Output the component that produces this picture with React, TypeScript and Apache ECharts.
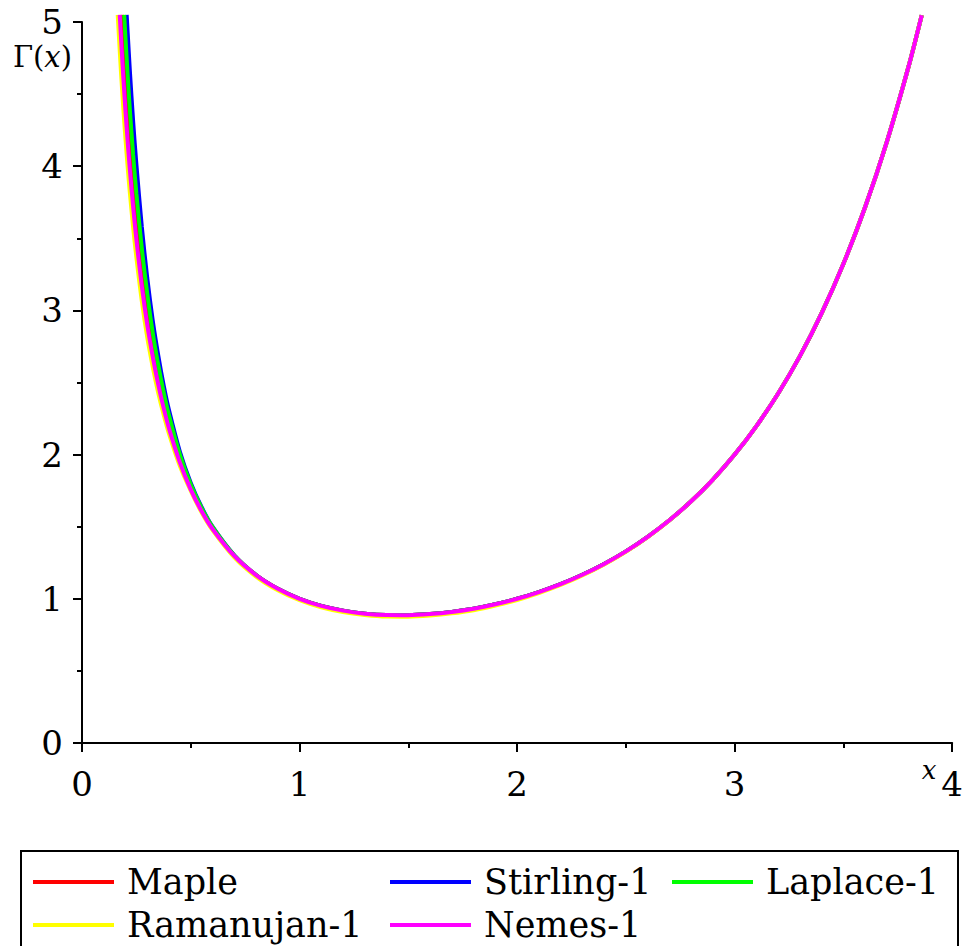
import React, { useEffect, useRef } from "react";
import * as echarts from "echarts";

// x positions shared by all curves
const X = [
  0.17, 0.18, 0.19, 0.2, 0.21, 0.22, 0.235, 0.25, 0.275, 0.3, 0.325, 0.35, 0.375, 0.4, 0.45, 0.5, 0.55, 0.6, 0.7, 0.8, 0.9,
  1.0, 1.1, 1.2, 1.3, 1.4, 1.5, 1.6, 1.7, 1.8, 1.9, 2.0, 2.1, 2.2, 2.3, 2.4, 2.5, 2.6, 2.7, 2.8, 2.9, 3.0, 3.1, 3.2, 3.3, 3.4,
  3.5, 3.6, 3.7, 3.8, 3.86,
];

// first point of each curve (where it leaves the top of the plot)
const START_MAPLE = [0.1825, 5.05];
const START_STIRLING = [0.2053, 5.05];
const START_LAPLACE = [0.1939, 5.05];
const START_RAMANUJAN = [0.1642, 5.05];
const START_NEMES = [0.1734, 5.05];

const Y_MAPLE = [
  null, null, 4.847, 4.591, 4.36, 4.15, 3.871, 3.626, 3.279, 2.992, 2.751, 2.546, 2.373, 2.218, 1.968, 1.772, 1.616, 1.489,
  1.298, 1.164, 1.069, 1.0, 0.951, 0.918, 0.897, 0.887, 0.886, 0.894, 0.909, 0.931, 0.962, 1.0, 1.047, 1.102, 1.167, 1.242,
  1.329, 1.43, 1.545, 1.676, 1.827, 2.0, 2.198, 2.424, 2.683, 2.981, 3.323, 3.717, 4.171, 4.694, 5.047,
];
const Y_STIRLING = [
  null, null, null, null, 4.924, 4.661, 4.313, 4.012, 3.579, 3.224, 2.932, 2.692, 2.483, 2.307, 2.02, 1.804, 1.635, 1.5,
  1.302, 1.165, 1.069, 1.0, 0.951, 0.918, 0.897, 0.887, 0.886, 0.894, 0.909, 0.931, 0.962, 1.0, 1.047, 1.102, 1.167, 1.242,
  1.329, 1.43, 1.545, 1.676, 1.827, 2.0, 2.198, 2.424, 2.683, 2.981, 3.323, 3.717, 4.171, 4.694, 5.047,
];
const Y_LAPLACE = [
  null, null, null, 4.885, 4.626, 4.391, 4.08, 3.809, 3.429, 3.116, 2.847, 2.625, 2.435, 2.271, 2.0, 1.793, 1.629, 1.498,
  1.301, 1.165, 1.069, 1.0, 0.951, 0.918, 0.897, 0.887, 0.886, 0.894, 0.909, 0.931, 0.962, 1.0, 1.047, 1.102, 1.167, 1.242,
  1.329, 1.43, 1.545, 1.676, 1.827, 2.0, 2.198, 2.424, 2.683, 2.981, 3.323, 3.717, 4.171, 4.694, 5.047,
];
const Y_RAMANUJAN = [
  4.894, 4.634, 4.399, 4.186, 3.992, 3.815, 3.576, 3.366, 3.064, 2.812, 2.609, 2.431, 2.279, 2.144, 1.92, 1.748, 1.598, 1.476,
  1.287, 1.154, 1.059, 0.99, 0.941, 0.908, 0.888, 0.877, 0.876, 0.884, 0.899, 0.921, 0.953, 0.992, 1.04, 1.096, 1.162, 1.238,
  1.326, 1.428, 1.544, 1.676, 1.827, 2.0, 2.198, 2.424, 2.683, 2.981, 3.323, 3.717, 4.171, 4.694, 5.047,
];
const Y_NEMES = [
  null, 4.87, 4.612, 4.379, 4.168, 3.976, 3.718, 3.491, 3.168, 2.899, 2.68, 2.489, 2.324, 2.18, 1.944, 1.757, 1.607, 1.484,
  1.297, 1.164, 1.069, 1.0, 0.951, 0.918, 0.897, 0.887, 0.886, 0.894, 0.909, 0.931, 0.962, 1.0, 1.047, 1.102, 1.167, 1.242,
  1.329, 1.43, 1.545, 1.676, 1.827, 2.0, 2.198, 2.424, 2.683, 2.981, 3.323, 3.717, 4.171, 4.694, 5.047,
];

const X_TICKS = [0, 1, 2, 3, 4];
const Y_TICKS = [0, 1, 2, 3, 4, 5];

const SERIES = [
  { name: "Maple", color: "#ff0000", start: START_MAPLE, ys: Y_MAPLE },
  { name: "Stirling-1", color: "#0000ff", start: START_STIRLING, ys: Y_STIRLING },
  { name: "Laplace-1", color: "#00ff00", start: START_LAPLACE, ys: Y_LAPLACE },
  { name: "Ramanujan-1", color: "#ffff00", start: START_RAMANUJAN, ys: Y_RAMANUJAN },
  { name: "Nemes-1", color: "#ff00ff", start: START_NEMES, ys: Y_NEMES },
];

function buildData(start: number[], ys: (number | null)[]) {
  const out: number[][] = [start];
  X.forEach((x, i) => {
    const y = ys[i];
    if (y !== null && y !== undefined) out.push([x, y]);
  });
  return out;
}

const SERIF = "'DejaVu Serif', serif";

export default function App() {
  const ref = useRef<HTMLDivElement>(null);

  useEffect(() => {
    if (!ref.current) return;
    const chart = echarts.init(ref.current, null, { renderer: "svg" });

    const legendPos = [
      { x: 33, y: 882 },
      { x: 390, y: 882 },
      { x: 672, y: 882 },
      { x: 33, y: 925 },
      { x: 390, y: 925 },
    ];

    const legendElems: any[] = [
      {
        type: "rect",
        shape: { x: 21, y: 851, width: 937, height: 130 },
        style: { fill: "none", stroke: "#000", lineWidth: 2 },
        silent: true,
      },
    ];
    SERIES.forEach((s, i) => {
      const p = legendPos[i];
      legendElems.push({
        type: "line",
        shape: { x1: p.x, y1: p.y, x2: p.x + 81, y2: p.y },
        style: { stroke: s.color, lineWidth: 4 },
        silent: true,
      });
      legendElems.push({
        type: "text",
        x: p.x + 94,
        y: p.y,
        style: {
          text: s.name,
          fill: "#000",
          font: `35px ${SERIF}`,
          verticalAlign: "middle",
          align: "left",
        },
        silent: true,
      });
    });

    const option: any = {
      animation: false,
      backgroundColor: "#ffffff",
      grid: { left: 82, right: 9, top: 22, bottom: 203, containLabel: false },
      xAxis: {
        type: "value",
        min: X_TICKS[0],
        max: X_TICKS[X_TICKS.length - 1],
        interval: 1,
        axisLine: { show: true, onZero: true, lineStyle: { color: "#000", width: 2 } },
        axisTick: { show: true, length: 9, inside: false, lineStyle: { color: "#000", width: 2 } },
        minorTick: { show: true, splitNumber: 2, length: 5, lineStyle: { color: "#000", width: 2 } },
        splitLine: { show: false },
        axisLabel: {
          color: "#000",
          fontFamily: SERIF,
          fontSize: 34,
          margin: 24,
        },
      },
      yAxis: {
        type: "value",
        min: Y_TICKS[0],
        max: Y_TICKS[Y_TICKS.length - 1],
        interval: 1,
        axisLine: { show: true, lineStyle: { color: "#000", width: 2 } },
        axisTick: { show: true, length: 9, inside: false, lineStyle: { color: "#000", width: 2 } },
        minorTick: { show: true, splitNumber: 2, length: 5, lineStyle: { color: "#000", width: 2 } },
        splitLine: { show: false },
        axisLabel: {
          color: "#000",
          fontFamily: SERIF,
          fontSize: 34,
          margin: 19,
        },
      },
      series: SERIES.map((s) => ({
        name: s.name,
        type: "line",
        data: buildData(s.start, s.ys),
        showSymbol: false,
        symbol: "none",
        smooth: 0.3,
        clip: false,
        lineStyle: { color: s.color, width: 4 },
        itemStyle: { color: s.color },
      })),
      graphic: [
        {
          type: "text",
          x: 72,
          y: 57,
          style: {
            text: "{n|Γ(}{i|x}{n|)}",
            align: "right",
            verticalAlign: "middle",
            rich: {
              n: { fontFamily: SERIF, fontSize: 29, fill: "#000" },
              i: { fontFamily: SERIF, fontStyle: "italic", fontSize: 29, fill: "#000" },
            },
          },
          silent: true,
        },
        {
          type: "text",
          x: 929,
          y: 770,
          style: {
            text: "x",
            fill: "#000",
            font: `italic 26px ${SERIF}`,
            align: "center",
            verticalAlign: "middle",
          },
          silent: true,
        },
        ...legendElems,
      ],
    };

    chart.setOption(option);
    return () => chart.dispose();
  }, []);

  return (
    <div
      ref={ref}
      style={{ position: "absolute", left: 0, top: 0, width: 966, height: 946, background: "#fff" }}
    />
  );
}
